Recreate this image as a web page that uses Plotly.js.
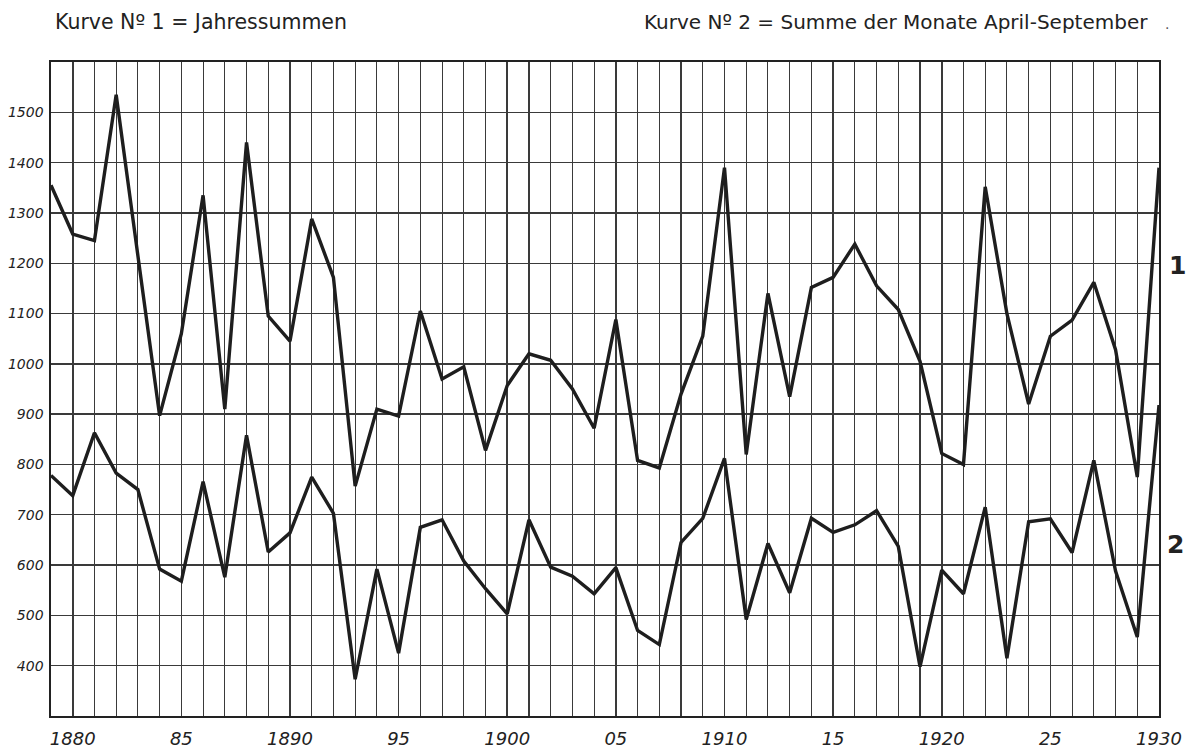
<!DOCTYPE html>
<html>
<head>
<meta charset="utf-8">
<script src="https://cdn.plot.ly/plotly-3.0.1.min.js"></script>
<style>html,body{margin:0;padding:0;background:#fff;}#chart{width:1188px;height:749px;}</style>
</head>
<body>
<div id="chart"></div>
<script>
const years = [1879,1880,1881,1882,1883,1884,1885,1886,1887,1888,1889,1890,1891,1892,1893,1894,1895,1896,1897,1898,1899,1900,1901,1902,1903,1904,1905,1906,1907,1908,1909,1910,1911,1912,1913,1914,1915,1916,1917,1918,1919,1920,1921,1922,1923,1924,1925,1926,1927,1928,1929,1930];
const jahressummen = [1355,1258,1245,1535,1215,897,1060,1335,910,1440,1095,1045,1288,1172,757,910,896,1105,970,994,828,957,1020,1007,950,872,1088,808,793,940,1055,1390,820,1140,935,1152,1172,1238,1155,1108,1005,822,800,1352,1100,920,1055,1087,1162,1028,775,1390];
const aprilSeptember = [778,738,863,783,750,592,568,766,576,858,626,664,775,703,373,592,425,675,690,608,553,503,690,596,578,543,595,470,442,645,693,812,492,643,545,693,665,680,708,637,398,590,543,715,415,686,692,625,808,588,457,918];
const xTickVals = [1880,1885,1890,1895,1900,1905,1910,1915,1920,1925,1930];
const xTickText = ["1880","85","1890","95","1900","05","1910","15","1920","25","1930"];
const yTickVals = [400,500,600,700,800,900,1000,1100,1200,1300,1400,1500];
const yTickText = ["400","500","600","700","800","900","1000","1100","1200","1300","1400","1500"];
const title1 = "Kurve N\u00BA 1 = Jahressummen";
const title2 = "Kurve N\u00BA 2 = Summe der Monate April-September";
const curveLabels = ["1","2"];
const curveLabelY = [1195,640];

const lineStyle = {color:'#1e1e1e', width:3.4};
const traces = [
  {x:years, y:jahressummen, type:'scatter', mode:'lines', line:lineStyle, hoverinfo:'x+y', name:'1'},
  {x:years, y:aprilSeptember, type:'scatter', mode:'lines', line:lineStyle, hoverinfo:'x+y', name:'2'}
];
const gridCol = '#3a3a3a';
const layout = {
  width:1188, height:749,
  margin:{l:51, r:29, t:62, b:33, pad:0},
  paper_bgcolor:'#fff', plot_bgcolor:'#fff',
  showlegend:false,
  font:{family:'DejaVu Sans, sans-serif', color:'#222'},
  xaxis:{
    range:[1879,1930], tickmode:'array', tickvals:xTickVals, ticktext:xTickText,
    showgrid:true, gridcolor:gridCol, gridwidth:1.7,
    minor:{tickmode:'linear', tick0:1879, dtick:1, showgrid:true, gridcolor:gridCol, gridwidth:1.1, ticks:''},
    ticks:'', showline:true, mirror:true, linecolor:'#222', linewidth:1.6,
    tickfont:{family:'DejaVu Sans, sans-serif', size:18, style:'italic', color:'#222'},
    ticklabelstandoff:6, zeroline:false, fixedrange:true
  },
  yaxis:{
    range:[300,1600], tickmode:'array', tickvals:yTickVals, ticktext:yTickText,
    showgrid:true, gridcolor:gridCol, gridwidth:1.4,
    minor:{tickmode:'linear', tick0:300, dtick:100, showgrid:true, gridcolor:gridCol, gridwidth:1.4, ticks:''},
    ticks:'', showline:true, mirror:true, linecolor:'#222', linewidth:1.6,
    tickfont:{family:'DejaVu Sans, sans-serif', size:14, style:'italic', color:'#222'},
    ticklabelstandoff:3, zeroline:false, fixedrange:true
  },
  annotations:[
    {text:title1, xref:'paper', yref:'paper', x:0.002, y:1.061, xanchor:'left', yanchor:'middle', showarrow:false,
     font:{family:'DejaVu Sans, sans-serif', size:20.5, color:'#222'}},
    {text:title2, xref:'paper', yref:'paper', x:0.992, y:1.061, xanchor:'right', yanchor:'middle', showarrow:false,
     font:{family:'DejaVu Sans, sans-serif', size:20, color:'#222'}},
    {text:'.', xref:'paper', yref:'paper', x:1.004, y:1.058, xanchor:'left', yanchor:'middle', showarrow:false,
     font:{family:'DejaVu Sans, sans-serif', size:14, color:'#555'}},
    {text:curveLabels[0], xref:'paper', yref:'y', x:1.0165, y:curveLabelY[0], xanchor:'center', yanchor:'middle', showarrow:false,
     font:{family:'DejaVu Sans, sans-serif', size:25, weight:'bold', color:'#222'}},
    {text:curveLabels[1], xref:'paper', yref:'y', x:1.0150, y:curveLabelY[1], xanchor:'center', yanchor:'middle', showarrow:false,
     font:{family:'DejaVu Sans, sans-serif', size:25, weight:'bold', color:'#222'}}
  ]
};
Plotly.newPlot('chart', traces, layout, {displayModeBar:false, staticPlot:true});
</script>
</body>
</html>
